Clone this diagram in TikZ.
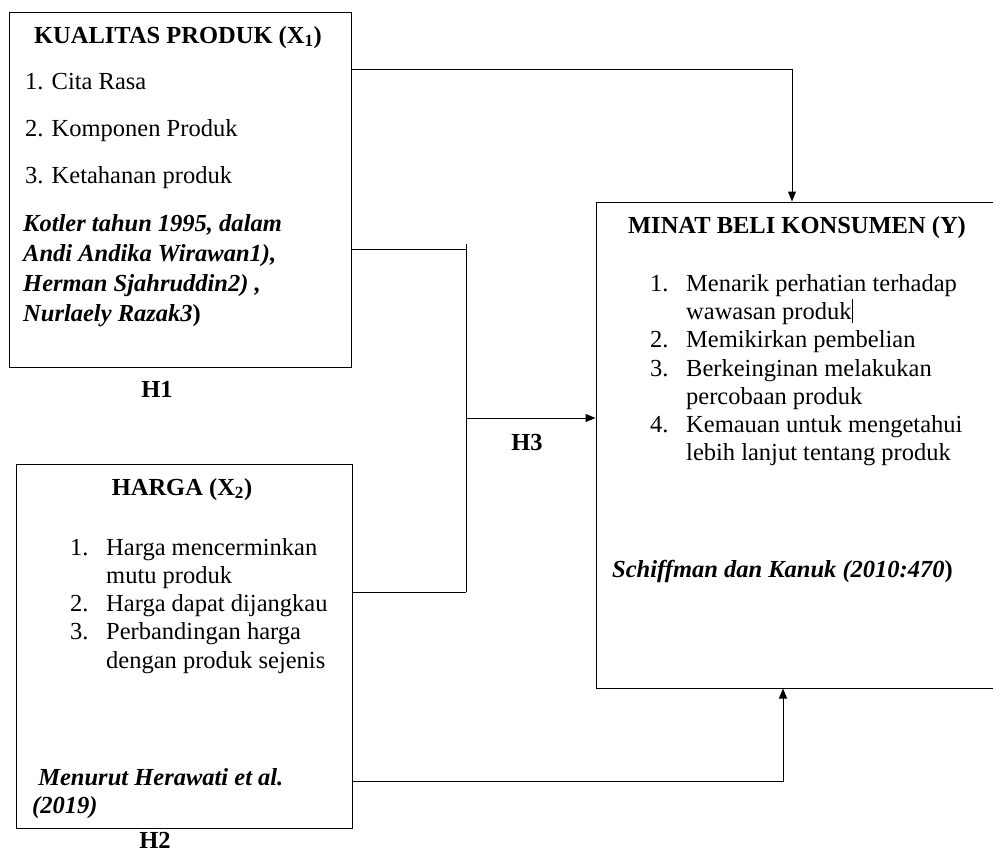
\documentclass[tikz,border=0pt]{standalone}
\usepackage{fontspec}
\setmainfont{Liberation Serif}
\usetikzlibrary{arrows.meta}
\tikzset{
  BoxStyle/.style = { draw, line width=1pt, inner sep=0pt },
  TextStyle/.style = { inner sep=0pt, anchor=base west, font=\fontsize{24.5}{28.3}\selectfont },
  CiteStyle/.style = { TextStyle, font=\fontsize{24.5}{30}\selectfont\bfseries\itshape },
  TitleStyle/.style = { inner sep=0pt, anchor=base, font=\fontsize{24.5}{28.3}\selectfont\bfseries },
  EdgeStyle/.style = { line width=1pt },
  ArrowStyle/.style = { line width=1pt, -{Triangle[length=10pt,width=8pt]} } }

\begin{document}
\begin{tikzpicture}[x=1pt,y=-1pt]
  \useasboundingbox (0,0) rectangle (993,852);
  \clip (0,0) rectangle (993,852);
  \node[BoxStyle, minimum width=342pt, minimum height=355pt] (kp) at (180,189.5) {};
  \node[BoxStyle, minimum width=336pt, minimum height=364pt] (hg) at (184,646) {};
  \node[BoxStyle, minimum width=410pt, minimum height=486pt] (mb) at (801,445) {};
  \node[TitleStyle] (kpTitle) at (178,43) {KUALITAS PRODUK (X\textsubscript{1})};
  \node[TextStyle, font=\fontsize{24.5}{47}\selectfont] (kpList) at (25,89)
    {\begin{tabular}[t]{@{}l@{}}1. Cita Rasa\\2. Komponen Produk\\3. Ketahanan produk\end{tabular}};
  \node[CiteStyle] (kpCite) at (23,231)
    {\begin{tabular}[t]{@{}l@{}}Kotler tahun 1995, dalam\\Andi Andika Wirawan1),\\Herman Sjahruddin2) ,\\Nurlaely Razak3\textup{)}\end{tabular}};
  \node[TitleStyle] (mbTitle) at (797,233) {MINAT BELI KONSUMEN (Y)};
  \node[TextStyle] (mbList) at (650,291)
    {\begin{tabular}[t]{@{}p{36pt}@{}l@{}}1. & Menarik perhatian terhadap\\
      & wawasan produk\rule[-4pt]{0.6pt}{24pt}\\2. & Memikirkan pembelian\\
      3. & Berkeinginan melakukan\\ & percobaan produk\\
      4. & Kemauan untuk mengetahui\\ & lebih lanjut tentang produk\end{tabular}};
  \node[CiteStyle] (mbCite) at (612,577) {Schiffman dan Kanuk (2010:470\textup{)}};
  \node[TitleStyle] (hgTitle) at (182,495) {HARGA (X\textsubscript{2})};
  \node[TextStyle] (hgList) at (70,555)
    {\begin{tabular}[t]{@{}p{36pt}@{}l@{}}1. & Harga mencerminkan\\ & mutu produk\\
      2. & Harga dapat dijangkau\\3. & Perbandingan harga\\ & dengan produk sejenis\end{tabular}};
  \node[CiteStyle, font=\fontsize{24.5}{28}\selectfont\bfseries\itshape] (hgCite) at (32,785)
    {\begin{tabular}[t]{@{}l@{}}\ Menurut Herawati et al.\\(2019)\end{tabular}};
  \node[TitleStyle] (h1) at (157,397) {H1};
  \node[TitleStyle] (h2) at (155,848) {H2};
  \node[TitleStyle] (h3) at (527,450) {H3};
  \coordinate (jn) at (466,418);
  \draw[ArrowStyle] (kp.east |- 0,69) -| ([xshift=-9pt]mb.north);
  \draw[EdgeStyle] (kp.east |- 0,249) -- (jn |- 0,249);
  \draw[EdgeStyle] (jn |- 0,244) -- (jn |- 0,592);
  \draw[EdgeStyle] (hg.east |- 0,592) -- (jn |- 0,592);
  \draw[ArrowStyle] (jn) -- (mb.west |- jn);
  \draw[ArrowStyle] (hg.east |- 0,781) -| ([xshift=-18pt]mb.south);
\end{tikzpicture}
\end{document}
